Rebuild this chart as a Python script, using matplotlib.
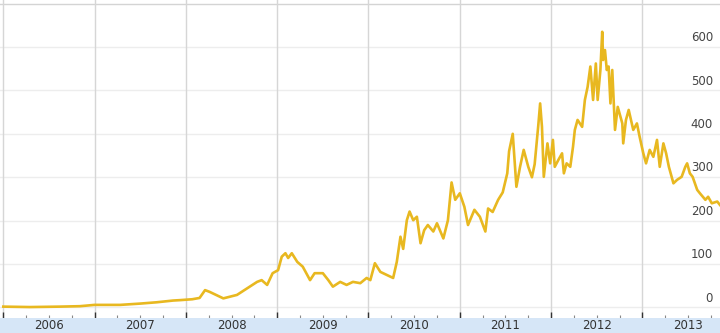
import matplotlib
matplotlib.use("Agg")
import matplotlib.pyplot as plt
from matplotlib.patches import Rectangle
from matplotlib.ticker import FixedLocator

# decimal year and value
dates = [2006.00, 2006.29, 2006.62, 2006.84, 2007.00, 2007.28, 2007.50, 2007.68,
         2007.86, 2007.94, 2008.07, 2008.15, 2008.21, 2008.26, 2008.41, 2008.56,
         2008.70, 2008.78, 2008.83, 2008.89, 2008.95, 2009.01, 2009.05, 2009.09,
         2009.12, 2009.16, 2009.22, 2009.28, 2009.36, 2009.41, 2009.50, 2009.56,
         2009.61, 2009.69, 2009.76, 2009.83, 2009.91, 2009.98, 2010.02, 2010.07,
         2010.13, 2010.20, 2010.27, 2010.31, 2010.35, 2010.38, 2010.42, 2010.45,
         2010.49, 2010.53, 2010.57, 2010.61, 2010.65, 2010.71, 2010.75, 2010.82,
         2010.87, 2010.91, 2010.95, 2011.00, 2011.05, 2011.09, 2011.16, 2011.22,
         2011.28, 2011.31, 2011.36, 2011.42, 2011.47, 2011.52, 2011.54, 2011.58,
         2011.62, 2011.66, 2011.70, 2011.75, 2011.79, 2011.82, 2011.86, 2011.88,
         2011.90, 2011.92, 2011.96, 2011.99, 2012.02, 2012.04, 2012.08, 2012.12,
         2012.14, 2012.17, 2012.21, 2012.24, 2012.26, 2012.29, 2012.34, 2012.37,
         2012.40, 2012.43, 2012.46, 2012.49, 2012.51, 2012.54, 2012.56, 2012.57,
         2012.59, 2012.61, 2012.63, 2012.65, 2012.67, 2012.70, 2012.73, 2012.78,
         2012.79, 2012.82, 2012.85, 2012.90, 2012.94, 2012.97, 2013.01, 2013.04,
         2013.08, 2013.12, 2013.16, 2013.19, 2013.23, 2013.26, 2013.29, 2013.34,
         2013.38, 2013.43, 2013.47, 2013.49, 2013.52, 2013.55, 2013.60, 2013.63,
         2013.69, 2013.72, 2013.76, 2013.82, 2013.85]
values = [2, 1, 2, 3, 6, 6, 9, 12,
          16, 17, 19, 22, 40, 36, 21, 29,
          48, 59, 63, 52, 79, 86, 117, 125,
          114, 125, 105, 94, 63, 79, 79, 63,
          48, 59, 52, 59, 56, 68, 63, 102,
          82, 75, 68, 105, 163, 135, 201, 221,
          201, 209, 148, 178, 190, 175, 194, 159,
          201, 288, 248, 263, 232, 190, 225, 209,
          175, 228, 220, 248, 265, 309, 360, 400,
          278, 324, 363, 324, 300, 330, 420, 470,
          416, 301, 378, 332, 386, 324, 340, 355,
          309, 332, 324, 370, 409, 432, 416, 478,
          508, 555, 478, 562, 478, 547, 635, 570,
          593, 547, 555, 470, 547, 409, 462, 424,
          378, 432, 455, 409, 424, 393, 355, 332,
          363, 347, 386, 324, 378, 355, 324, 286,
          294, 301, 324, 332, 309, 301, 271, 263,
          248, 255, 240, 244, 236]

years = [2006, 2007, 2008, 2009, 2010, 2011, 2012, 2013]
y_ticks = [0, 100, 200, 300, 400, 500, 600]

fig = plt.figure(figsize=(7.2, 3.33), dpi=100)
fig.patches.append(Rectangle((0, 0), 1, 15 / 333, transform=fig.transFigure,
                             facecolor="#d6e6f7", edgecolor="none", zorder=0))

ax = fig.add_axes([0, 15 / 333, 1, 318 / 333])
ax.set_xlim(2005.964, 2013.85)
ax.set_ylim(-24.2, 708.2)
for s in ax.spines.values():
    s.set_visible(False)

for v in y_ticks:
    ax.axhline(v, color="#ededed", lw=1, zorder=1)
    ax.annotate(str(v), xy=(1, v), xycoords=("axes fraction", "data"),
                xytext=(-5, 2), textcoords="offset points", ha="right",
                va="bottom", fontsize=8.5, color="#444444")
ax.axhline(700, color="#d4d4d4", lw=1, zorder=1)
for yr in years:
    ax.axvline(yr, color="#d6d6d6", lw=1, zorder=1)

ax.plot(dates, values, color="#e8b820", lw=1.9, zorder=3)

ax.xaxis.set_major_locator(FixedLocator(years))
ax.xaxis.set_minor_locator(FixedLocator([y + q / 4 for y in years for q in (1, 2, 3)]))
ax.tick_params(axis="x", which="major", direction="in", length=4.5, width=1,
               color="#333333", labelbottom=False)
ax.tick_params(axis="x", which="minor", direction="in", length=2.5, width=0.8,
               color="#888888")
ax.set_yticks([])

for yr in years:
    fig.text((yr + 0.5 - 2005.964) / (2013.85 - 2005.964), 7.5 / 333, str(yr),
             ha="center", va="center", fontsize=8.5, color="#333333")

fig.savefig("out.png", dpi=100)
